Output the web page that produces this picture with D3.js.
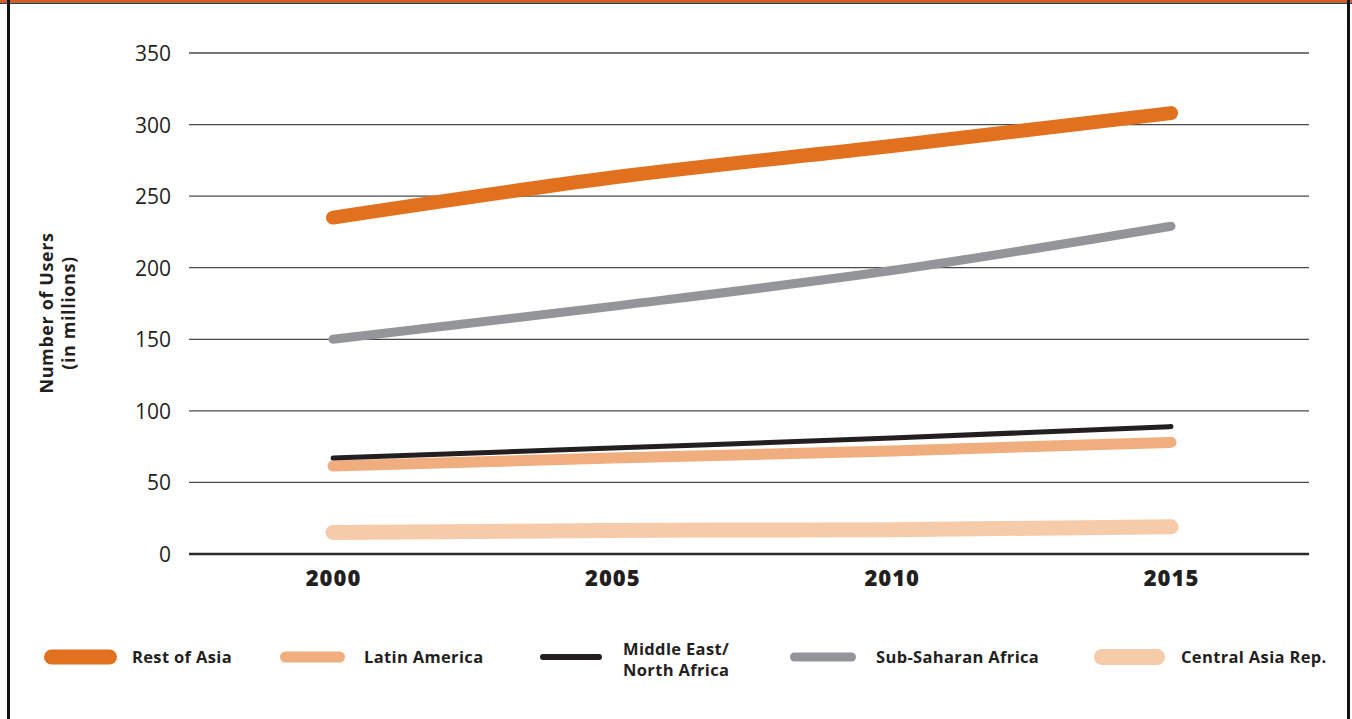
<!DOCTYPE html>
<html>
<head>
<meta charset="utf-8">
<script src="https://cdn.jsdelivr.net/npm/d3@7"></script>
<style>
  body { margin: 0; background: #fff; }
  svg { display: block; }
  text { font-family: 'Open Sans', 'DejaVu Sans', sans-serif; fill: #231f20; }
</style>
</head>
<body>
<svg id="chart" width="1352" height="719"></svg>
<script>
const years = [2000, 2005, 2010, 2015]
const yTicks = [0, 50, 100, 150, 200, 250, 300, 350]

// values (millions of users)
const restOfAsia = [235, 263, 285, 308]
const latinAmerica = [61.5, 67, 72, 78]
const middleEast = [67, 74, 81, 89]
const subSaharan = [150, 173, 198, 229]
const centralAsia = [15, 16.5, 17, 19]

const seriesNames = ['Rest of Asia', 'Latin America', 'Middle East/\nNorth Africa', 'Sub-Saharan Africa', 'Central Asia Rep.']
const seriesValues = [restOfAsia, latinAmerica, middleEast, subSaharan, centralAsia]
const seriesColors = ['#e1711f', '#f0ae7e', '#231f20', '#939598', '#f6cbaa']
const seriesWidths = [14, 11, 5, 9, 15]
// draw order: back to front
const drawOrder = [4, 1, 2, 3, 0]

const svg = d3.select('#chart')

// frame
svg.append('rect').attr('x', 0).attr('y', 0).attr('width', 1352).attr('height', 2.5).attr('fill', '#e05a1c')
svg.append('rect').attr('x', 0).attr('y', 2.5).attr('width', 1352).attr('height', 1.5).attr('fill', '#3a3a3a')
svg.append('rect').attr('x', 7).attr('y', 0).attr('width', 3).attr('height', 719).attr('fill', '#111')
svg.append('rect').attr('x', 1347).attr('y', 0).attr('width', 3).attr('height', 719).attr('fill', '#111')

const x = d3.scalePoint().domain(years).range([333, 1171])
const y = d3.scaleLinear().domain([0, 350]).range([554, 53])
const gridLeft = 189
const gridRight = 1309

// grid lines
const grid = svg.append('g')
grid.selectAll('line').data(yTicks).join('line')
  .attr('x1', gridLeft).attr('x2', gridRight)
  .attr('y1', d => y(d)).attr('y2', d => y(d))
  .attr('stroke', d => d === 0 ? '#2b2b2b' : '#4a4a4a')
  .attr('stroke-width', d => d === 0 ? 2.6 : 1.3)

// y axis tick labels
const yAxis = svg.append('g').attr('transform', 'translate(171,0)')
  .call(d3.axisLeft(y).tickValues(yTicks).tickSize(0).tickPadding(0))
yAxis.select('.domain').remove()
yAxis.selectAll('text')
  .attr('font-size', 21).attr('font-family', "'Open Sans', sans-serif")
  .attr('fill', '#231f20').attr('dy', '0.36em')

// x axis tick labels
const xAxis = svg.append('g').attr('transform', 'translate(0,570)')
  .call(d3.axisBottom(x).tickSize(0).tickPadding(0).tickFormat(d3.format('d')))
xAxis.select('.domain').remove()
xAxis.selectAll('text')
  .attr('font-size', 22).attr('font-weight', 800).attr('font-family', "'Open Sans', sans-serif")
  .attr('letter-spacing', 1)
  .attr('fill', '#231f20').attr('dy', '0.71em')

// axis title
const title = svg.append('text')
  .attr('transform', 'translate(58,313) rotate(-90)')
  .attr('text-anchor', 'middle')
  .attr('font-size', 18).attr('font-weight', 'bold').attr('letter-spacing', 0.6)
title.append('tspan').attr('x', 0).attr('dy', '-0.3em').text('Number of Users')
title.append('tspan').attr('x', 0).attr('dy', '1.25em').text('(in millions)')

// lines
const line = d3.line()
  .x((d, i) => x(years[i]))
  .y(d => y(d))
  .curve(d3.curveMonotoneX)

svg.append('g').selectAll('path').data(drawOrder).join('path')
  .attr('d', i => line(seriesValues[i]))
  .attr('fill', 'none')
  .attr('stroke', i => seriesColors[i])
  .attr('stroke-width', i => seriesWidths[i])
  .attr('stroke-linecap', 'round')

// legend
const legendX = [44, 280, 540, 790, 1094]
const legendSwatchW = [73, 65, 62, 66, 71]
const legendSwatchH = [15, 11, 6, 9, 16]
const legendTextX = [132, 364, 623, 876, 1181]
const legendY = 657

const legend = svg.append('g').selectAll('g').data(seriesNames).join('g')
legend.append('line')
  .attr('x1', (d, i) => legendX[i] + legendSwatchH[i] / 2)
  .attr('x2', (d, i) => legendX[i] + legendSwatchW[i] - legendSwatchH[i] / 2)
  .attr('y1', legendY).attr('y2', legendY)
  .attr('stroke', (d, i) => seriesColors[i])
  .attr('stroke-width', (d, i) => legendSwatchH[i])
  .attr('stroke-linecap', 'round')
legend.each(function (d, i) {
  const lines = d.split('\n')
  const t = d3.select(this).append('text')
    .attr('x', legendTextX[i])
    .attr('y', legendY - (lines.length - 1) * 8)
    .attr('font-size', 16.5).attr('font-weight', 'bold').attr('letter-spacing', 0.35)
  lines.forEach((s, k) => {
    t.append('tspan').attr('x', legendTextX[i]).attr('dy', k === 0 ? '0.35em' : 21).text(s)
  })
})
</script>
</body>
</html>
